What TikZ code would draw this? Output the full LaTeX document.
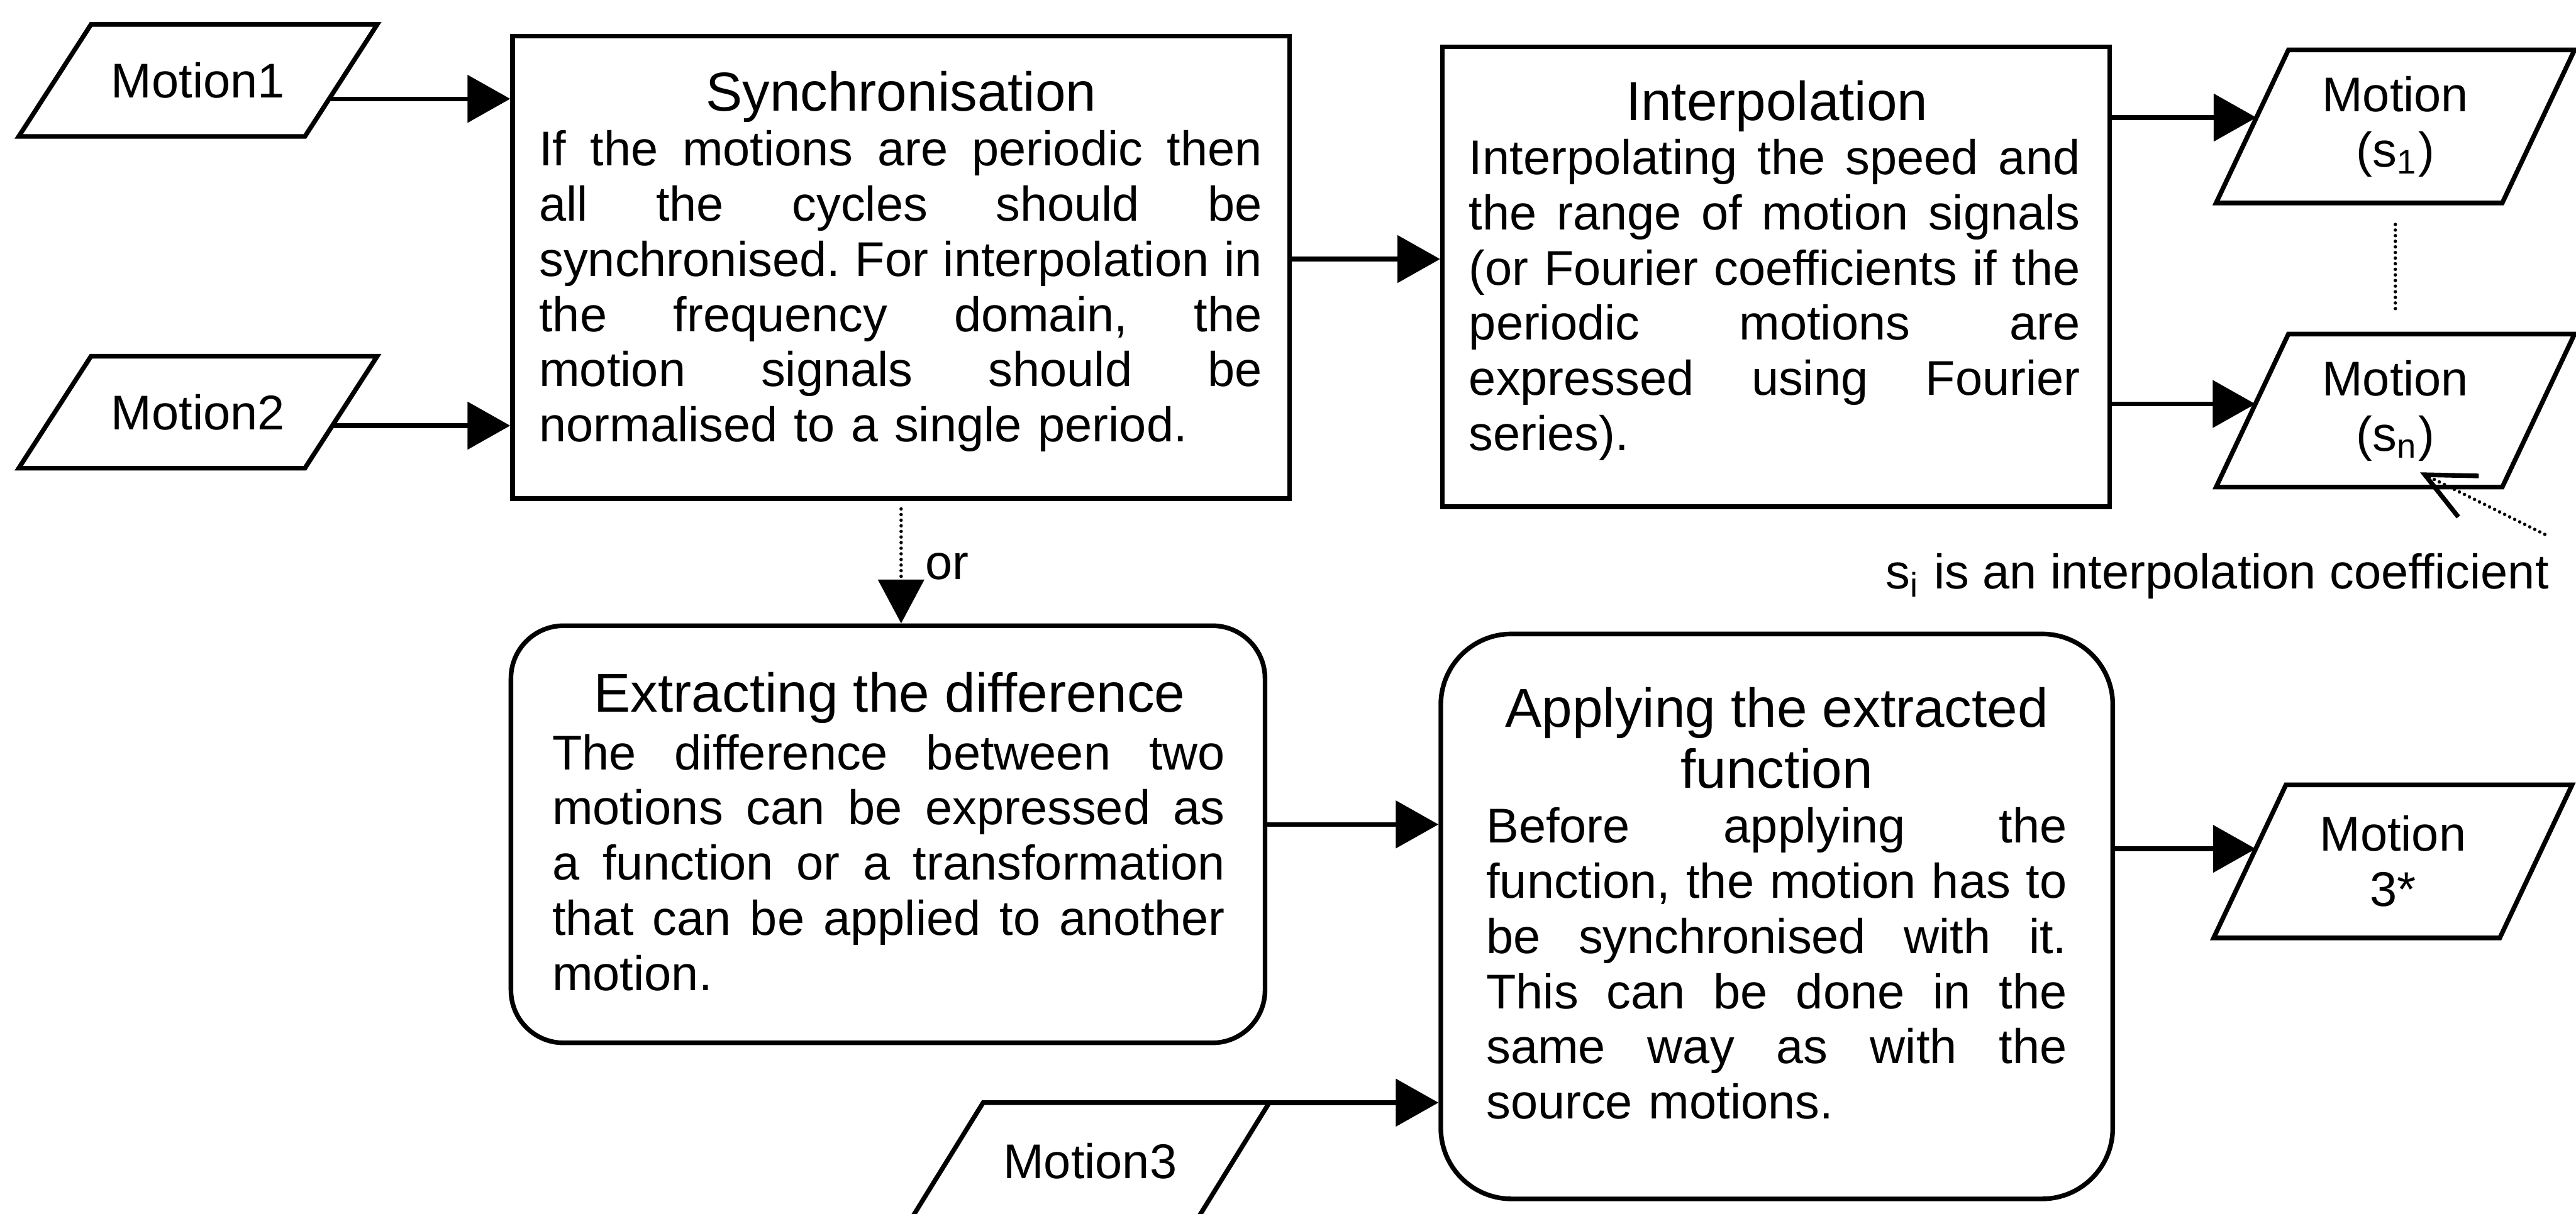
\documentclass[tikz,border=0pt]{standalone}
\usepackage{fontspec}
\setmainfont{Liberation Sans}
\usetikzlibrary{arrows.meta,calc}
\setlength{\parindent}{0pt}
\frenchspacing

\newcommand\bodysize{\fontsize{10}{11.31}\selectfont}
\newcommand\titlesize{\fontsize{11.25}{12.6}\selectfont}
\newlength\bodyw
% one fully justified line of a box text (spaces share the slack), and the closing line
\newcommand\jl[1]{\hbox to \bodyw{\spaceskip=0.278em plus 1fil\relax\xspaceskip=\spaceskip #1}}
\newcommand\lastline[1]{\hbox{#1}}
% parallelogram drawn round a named node, with its four corners named
\newcommand\parashape[1]{%
  \coordinate (#1-tl) at ($(#1.north west)+(44,0)$);
  \coordinate (#1-tr) at (#1.north east);
  \coordinate (#1-br) at ($(#1.south east)+(-44,0)$);
  \coordinate (#1-bl) at (#1.south west);
  \draw[outline] (#1-tl) -- (#1-tr) -- (#1-br) -- (#1-bl) -- cycle;}

\begin{document}
\begin{tikzpicture}[x=0.3367pt, y=-0.3367pt,
  outline/.style={draw, line width=0.95pt, line join=miter},
  procbox/.style={outline, rectangle, inner sep=0pt},
  motionpara/.style={inner sep=0pt, minimum width=217*0.3367pt,
    minimum height=#1*0.3367pt, align=center, font=\bodysize},
  boxtitle/.style={font=\titlesize, align=center, inner sep=0pt, anchor=base},
  boxbody/.style={font=\bodysize, align=left, inner sep=0pt, anchor=base west, text width=#1},
  flowarrow/.style={line width=0.95pt, -{Triangle[length=8.75pt, width=9.6pt]}},
  dotline/.style={line width=0.7pt, dash pattern=on 0pt off 1.15pt, line cap=round},
]
\path[fill=white, use as bounding box] (0,0) rectangle (1568,739);

% process boxes
\node[procbox, minimum width=473*0.3367pt, minimum height=281.5*0.3367pt] (sync) at (548.5,162.75) {};
\node[procbox, minimum width=406*0.3367pt, minimum height=280*0.3367pt] (interp) at (1081,168.5) {};
\node[procbox, rounded corners=10.8pt, minimum width=459*0.3367pt, minimum height=254*0.3367pt] (extract) at (540.5,508) {};
\node[procbox, rounded corners=14.5pt, minimum width=409*0.3367pt, minimum height=344*0.3367pt] (apply) at (1081.5,558) {};

% box texts
\node[boxtitle] (synct) at ($(sync.north)+(0,46.8)$) {Synchronisation};
\setlength\bodyw{148.15pt}
\node[boxbody=148.15pt] (syncb) at ($(sync.north west)+(17,80.4)$) {%
\jl{If the motions are periodic then}
\jl{all the cycles should be}
\jl{synchronised. For interpolation in}
\jl{the frequency domain, the}
\jl{motion signals should be}
\lastline{normalised to a single period.}};

\node[boxtitle] (interpt) at ($(interp.north)+(0.5,46.1)$) {Interpolation};
\setlength\bodyw{125.25pt}
\node[boxbody=125.25pt] (interpb) at ($(interp.north west)+(17,79.2)$) {%
\jl{Interpolating the speed and}
\jl{the range of motion signals}
\jl{(or Fourier coefficients if the}
\jl{periodic motions are}
\jl{expressed using Fourier}
\lastline{series).}};

\node[boxtitle] (extractt) at ($(extract.north)+(1,54)$) {Extracting the difference};
\setlength\bodyw{137.88pt}
\node[boxbody=137.88pt] (extractb) at ($(extract.north west)+(26,89)$) {%
\jl{The difference between two}
\jl{motions can be expressed as}
\jl{a function or a transformation}
\jl{that can be applied to another}
\lastline{motion.}};

% the base of a two-line title is its last line
\node[boxtitle] (applyt) at ($(apply.north)+(0,95.4)$) {Applying the extracted\\function};
\setlength\bodyw{119.02pt}
\node[boxbody=119.02pt] (applyb) at ($(apply.north west)+(28.5,128.7)$) {%
\jl{Before applying the}
\jl{function, the motion has to}
\jl{be synchronised with it.}
\jl{This can be done in the}
\jl{same way as with the}
\lastline{source motions.}};

% input and output motions
\node[motionpara=67] (m1) at (120.5,49) {Motion1};
\node[motionpara=67] (m2) at (120.5,251) {Motion2};
\node[motionpara=70] (m3) at (663.5,707) {Motion3};
\node[motionpara=92] (s1) at (1458,77) {Motion\\(s\textsubscript{1})};
\node[motionpara=92] (sn) at (1458,250) {Motion\\(s\textsubscript{n})};
\node[motionpara=92] (m3s) at (1456.5,524.5) {Motion\\3*};
\foreach \n in {m1,m2,m3,s1,sn,m3s} {\parashape{\n}}

% connectors
\coordinate (a1) at ($(m1-tr)!0.664!(m1-br)$);
\draw[flowarrow] (a1) -- (a1 -| sync.west);
\coordinate (a2) at ($(m2-tr)!0.62!(m2-br)$);
\draw[flowarrow] (a2) -- (a2 -| sync.west);
\coordinate (a3) at ($(sync.east)+(0,-5)$);
\draw[flowarrow] (a3) -- (a3 -| interp.west);
\coordinate (a4) at ($(s1-tl)!0.442!(s1-bl)$);
\draw[flowarrow] (a4 -| interp.east) -- (a4);
\coordinate (a5) at ($(sn-tl)!0.457!(sn-bl)$);
\draw[flowarrow] (a5 -| interp.east) -- (a5);
\draw[dotline, -{Triangle[length=9pt, width=9.4pt]}] ($(sync.south)+(0,5)$) -- (sync.south |- extract.north)
  node[midway, anchor=west, inner sep=0pt, xshift=4.6pt, font=\bodysize] (or) {or};
\coordinate (a7) at ($(extract.east)+(0,-6)$);
\draw[flowarrow] (a7) -- (a7 -| apply.west);
\draw[flowarrow] (m3-tr) -- (m3-tr -| apply.west);
\coordinate (a9) at ($(m3s-tl)!0.418!(m3s-bl)$);
\draw[flowarrow] (a9 -| apply.east) -- (a9);
\draw[dotline, shorten <=4.4pt, shorten >=4.7pt] (s1.south) -- (sn.north);

% note on the interpolation coefficient
\node[font=\bodysize, inner sep=0pt, anchor=base east] (note) at (1552,358.5)
  {s\textsubscript{i} is an interpolation coefficient};
\coordinate (notetail) at ($(note.north east)+(-3,-11)$);
\coordinate (notetip) at ($(sn.south)+(15,-9)$);
\draw[dotline, -{Straight Barb[length=10pt, width=9.4pt, line width=0.95pt]}] (notetail) -- (notetip);
\end{tikzpicture}
\end{document}
